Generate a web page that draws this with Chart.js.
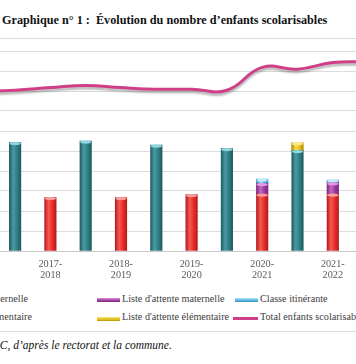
<!DOCTYPE html>
<html><head><meta charset="utf-8">
<script src="https://cdn.jsdelivr.net/npm/chart.js@4/dist/chart.umd.min.js"></script>
<style>
html,body{margin:0;padding:0;background:#fff;}
body{width:356px;height:364px;overflow:hidden;position:relative;font-family:"Liberation Serif","Times New Roman",serif;}
#title{position:absolute;left:2px;top:12px;font-weight:bold;font-size:12.2px;line-height:16px;color:#111;white-space:nowrap;font-family:"Liberation Serif",serif;}
#wrap{position:absolute;left:-60px;top:0;width:470px;height:290px;}
.leg{position:absolute;font-size:10.2px;color:#404040;white-space:nowrap;line-height:12px;font-family:"Liberation Serif",serif;}
.mk{position:absolute;width:23px;height:4px;}
#sep{position:absolute;left:0;top:331px;width:356px;height:1px;background:#d9d9d9;}
#src{position:absolute;top:338px;font-style:italic;font-size:11.5px;line-height:14px;color:#111;white-space:nowrap;font-family:"Liberation Serif",serif;}
</style></head><body>
<div id="title">Graphique n° 1 :&nbsp; Évolution du nombre d’enfants scolarisables</div>
<div id="wrap"><canvas id="c" width="470" height="290"></canvas></div>

<div class="leg" style="right:328px;top:293px;">Effectif maternelle</div>
<div class="mk" style="left:97px;top:298px;background:linear-gradient(#e08ae0,#a040a0 60%,#7a287a);"></div>
<div class="leg" style="left:122px;top:293px;">Liste d'attente maternelle</div>
<div class="mk" style="left:235px;top:298px;background:linear-gradient(#b0e4f6,#5ab4e0 60%,#3a88b8);"></div>
<div class="leg" style="left:260px;top:293px;">Classe itinérante</div>

<div class="leg" style="right:324px;top:311px;">Effectif élémentaire</div>
<div class="mk" style="left:97px;top:317px;background:linear-gradient(#f8e070,#e0c020 60%,#b89400);"></div>
<div class="leg" style="left:122px;top:311px;">Liste d'attente élémentaire</div>
<div class="mk" style="left:233px;top:317px;height:3px;width:25px;background:#cf3f87;"></div>
<div class="leg" style="left:260px;top:311px;">Total enfants scolarisables</div>

<div id="sep"></div>
<div id="src"><span id="srcHid">Source : CR</span>C, d’après le rectorat et la commune.</div>

<script>
// ---- data (1 gridline step = 500) ----
const years = ['2017-2018', '2018-2019', '2019-2020', '2020-2021', '2021-2022'];
const effectifElementaire = [2710, 2745, 2645, 2560, 2510];
const attenteElementaire  = [0, 0, 0, 0, 195];
const effectifMaternelle  = [1335, 1335, 1410, 1420, 1420];
const attenteMaternelle   = [0, 0, 0, 265, 285];
const classeItinerante    = [0, 0, 0, 110, 70];
// total line, one value per half-step slot (lead slot, then elem./mat. slot of each year, trailing slot)
const totalEnfants = [3990, 4020, 4085, 4140, 4085, 4045, 4045, 4020, 4590, 4545, 4710, 4730];
const gridStep = 500;
const yMax = 5325;

// ---- build slots: lead slot, [élémentaire, maternelle] per year, trailing slot ----
const slotLabels = [''];
const elemSlot = [null], attElemSlot = [null], matSlot = [null], attMatSlot = [null], itinSlot = [null];
years.forEach((y, i) => {
  const p = y.split('-');
  slotLabels.push('');
  elemSlot.push(effectifElementaire[i]); attElemSlot.push(attenteElementaire[i] || null);
  matSlot.push(null); attMatSlot.push(null); itinSlot.push(null);
  slotLabels.push([p[0] + '-', p[1]]);
  elemSlot.push(null); attElemSlot.push(null);
  matSlot.push(effectifMaternelle[i]); attMatSlot.push(attenteMaternelle[i] || null); itinSlot.push(classeItinerante[i] || null);
});
slotLabels.push('');
[elemSlot, attElemSlot, matSlot, attMatSlot, itinSlot].forEach(a => a.push(null));

function cyl(dark, light, base) {
  return (ctx) => {
    const ch = ctx.chart;
    if (!ch.chartArea || !ch.scales.x) return base;
    const x = ch.scales.x.getPixelForValue(ctx.dataIndex);
    const g = ch.ctx.createLinearGradient(x - 6, 0, x + 6, 0);
    g.addColorStop(0, dark); g.addColorStop(0.35, light); g.addColorStop(0.65, base); g.addColorStop(1, dark);
    return g;
  };
}

const capPlugin = {
  id: 'caps',
  afterDatasetDraw(chart, args) {
    const ds = chart.data.datasets[args.index];
    if (!ds.capColor) return;
    const c = chart.ctx;
    args.meta.data.forEach((el, i) => {
      if (ds.data[i] == null) return;
      c.save();
      c.fillStyle = ds.capColor;
      c.beginPath();
      c.ellipse(el.x, el.y + 1, el.width / 2, 1.6, 0, 0, Math.PI * 2);
      c.fill();
      c.restore();
    });
  }
};
const shadowPlugin = {
  id: 'lineShadow',
  beforeDatasetDraw(chart, args) {
    if (chart.data.datasets[args.index].type !== 'line') return;
    const c = chart.ctx; c.save();
    c.shadowColor = 'rgba(0,0,0,0.28)'; c.shadowOffsetY = 2.5; c.shadowBlur = 2;
  },
  afterDatasetDraw(chart, args) {
    if (chart.data.datasets[args.index].type !== 'line') return;
    chart.ctx.restore();
  }
};

new Chart(document.getElementById('c'), {
  type: 'bar',
  data: {
    labels: slotLabels,
    datasets: [
      { type: 'line', label: 'Total enfants scolarisables', data: totalEnfants, borderColor: '#cf3f87', borderWidth: 3,
        pointRadius: 0, tension: 0.45, fill: false, order: 0, stack: 'tot', yAxisID: 'y' },
      { label: 'Effectif élémentaire', data: elemSlot, backgroundColor: cyl('#1d5a60', '#4a9aa2', '#2f7f87'), capColor: '#8fd6de', stack: 's', order: 1 },
      { label: "Liste d'attente élémentaire", data: attElemSlot, backgroundColor: cyl('#b08a00', '#f5dc50', '#e3c21c'), capColor: '#fbe98a', stack: 's', order: 1 },
      { label: 'Effectif maternelle', data: matSlot, backgroundColor: cyl('#b51818', '#f45a50', '#e8302c'), capColor: '#f7a0a0', stack: 's', order: 1 },
      { label: "Liste d'attente maternelle", data: attMatSlot, backgroundColor: cyl('#7a247a', '#c668c6', '#a23ea2'), capColor: '#e39ae3', stack: 's', order: 1 },
      { label: 'Classe itinérante', data: itinSlot, backgroundColor: cyl('#3a8ab8', '#9ad8f2', '#62b6e0'), capColor: '#c0e8f8', stack: 's', order: 1 }
    ]
  },
  options: {
    responsive: false, animation: false, devicePixelRatio: 1,
    layout: { padding: { left: 22.15, right: 24.25, top: 38, bottom: 5 } },
    datasets: { bar: { barThickness: 11.5, borderWidth: 0, borderSkipped: false } },
    plugins: { legend: { display: false }, tooltip: { enabled: false }, title: { display: false } },
    scales: {
      x: {
        stacked: true,
        grid: { display: false, drawTicks: false },
        border: { display: true, color: '#c8c8c8', width: 1 },
        ticks: { autoSkip: false, maxRotation: 0, padding: 7,
                 font: { family: '"Liberation Serif", serif', size: 10.2, lineHeight: 1.15 }, color: '#595959' },
        afterFit: (s) => { s.height = 34; }
      },
      y: {
        stacked: true, min: 0, max: yMax,
        grid: { color: '#dcdcdc', lineWidth: 1, drawTicks: false },
        border: { display: false },
        ticks: { display: false },
        afterBuildTicks: (s) => {
          const t = [];
          for (let v = 0; v <= yMax; v += gridStep) t.push({ value: v });
          t.push({ value: yMax });
          s.ticks = t;
        },
        afterFit: (s) => { s.width = 0; }
      }
    }
  },
  plugins: [capPlugin, shadowPlugin]
});

const hid = document.getElementById('srcHid');
document.getElementById('src').style.left = (-hid.offsetWidth) + 'px';
</script>
</body></html>
